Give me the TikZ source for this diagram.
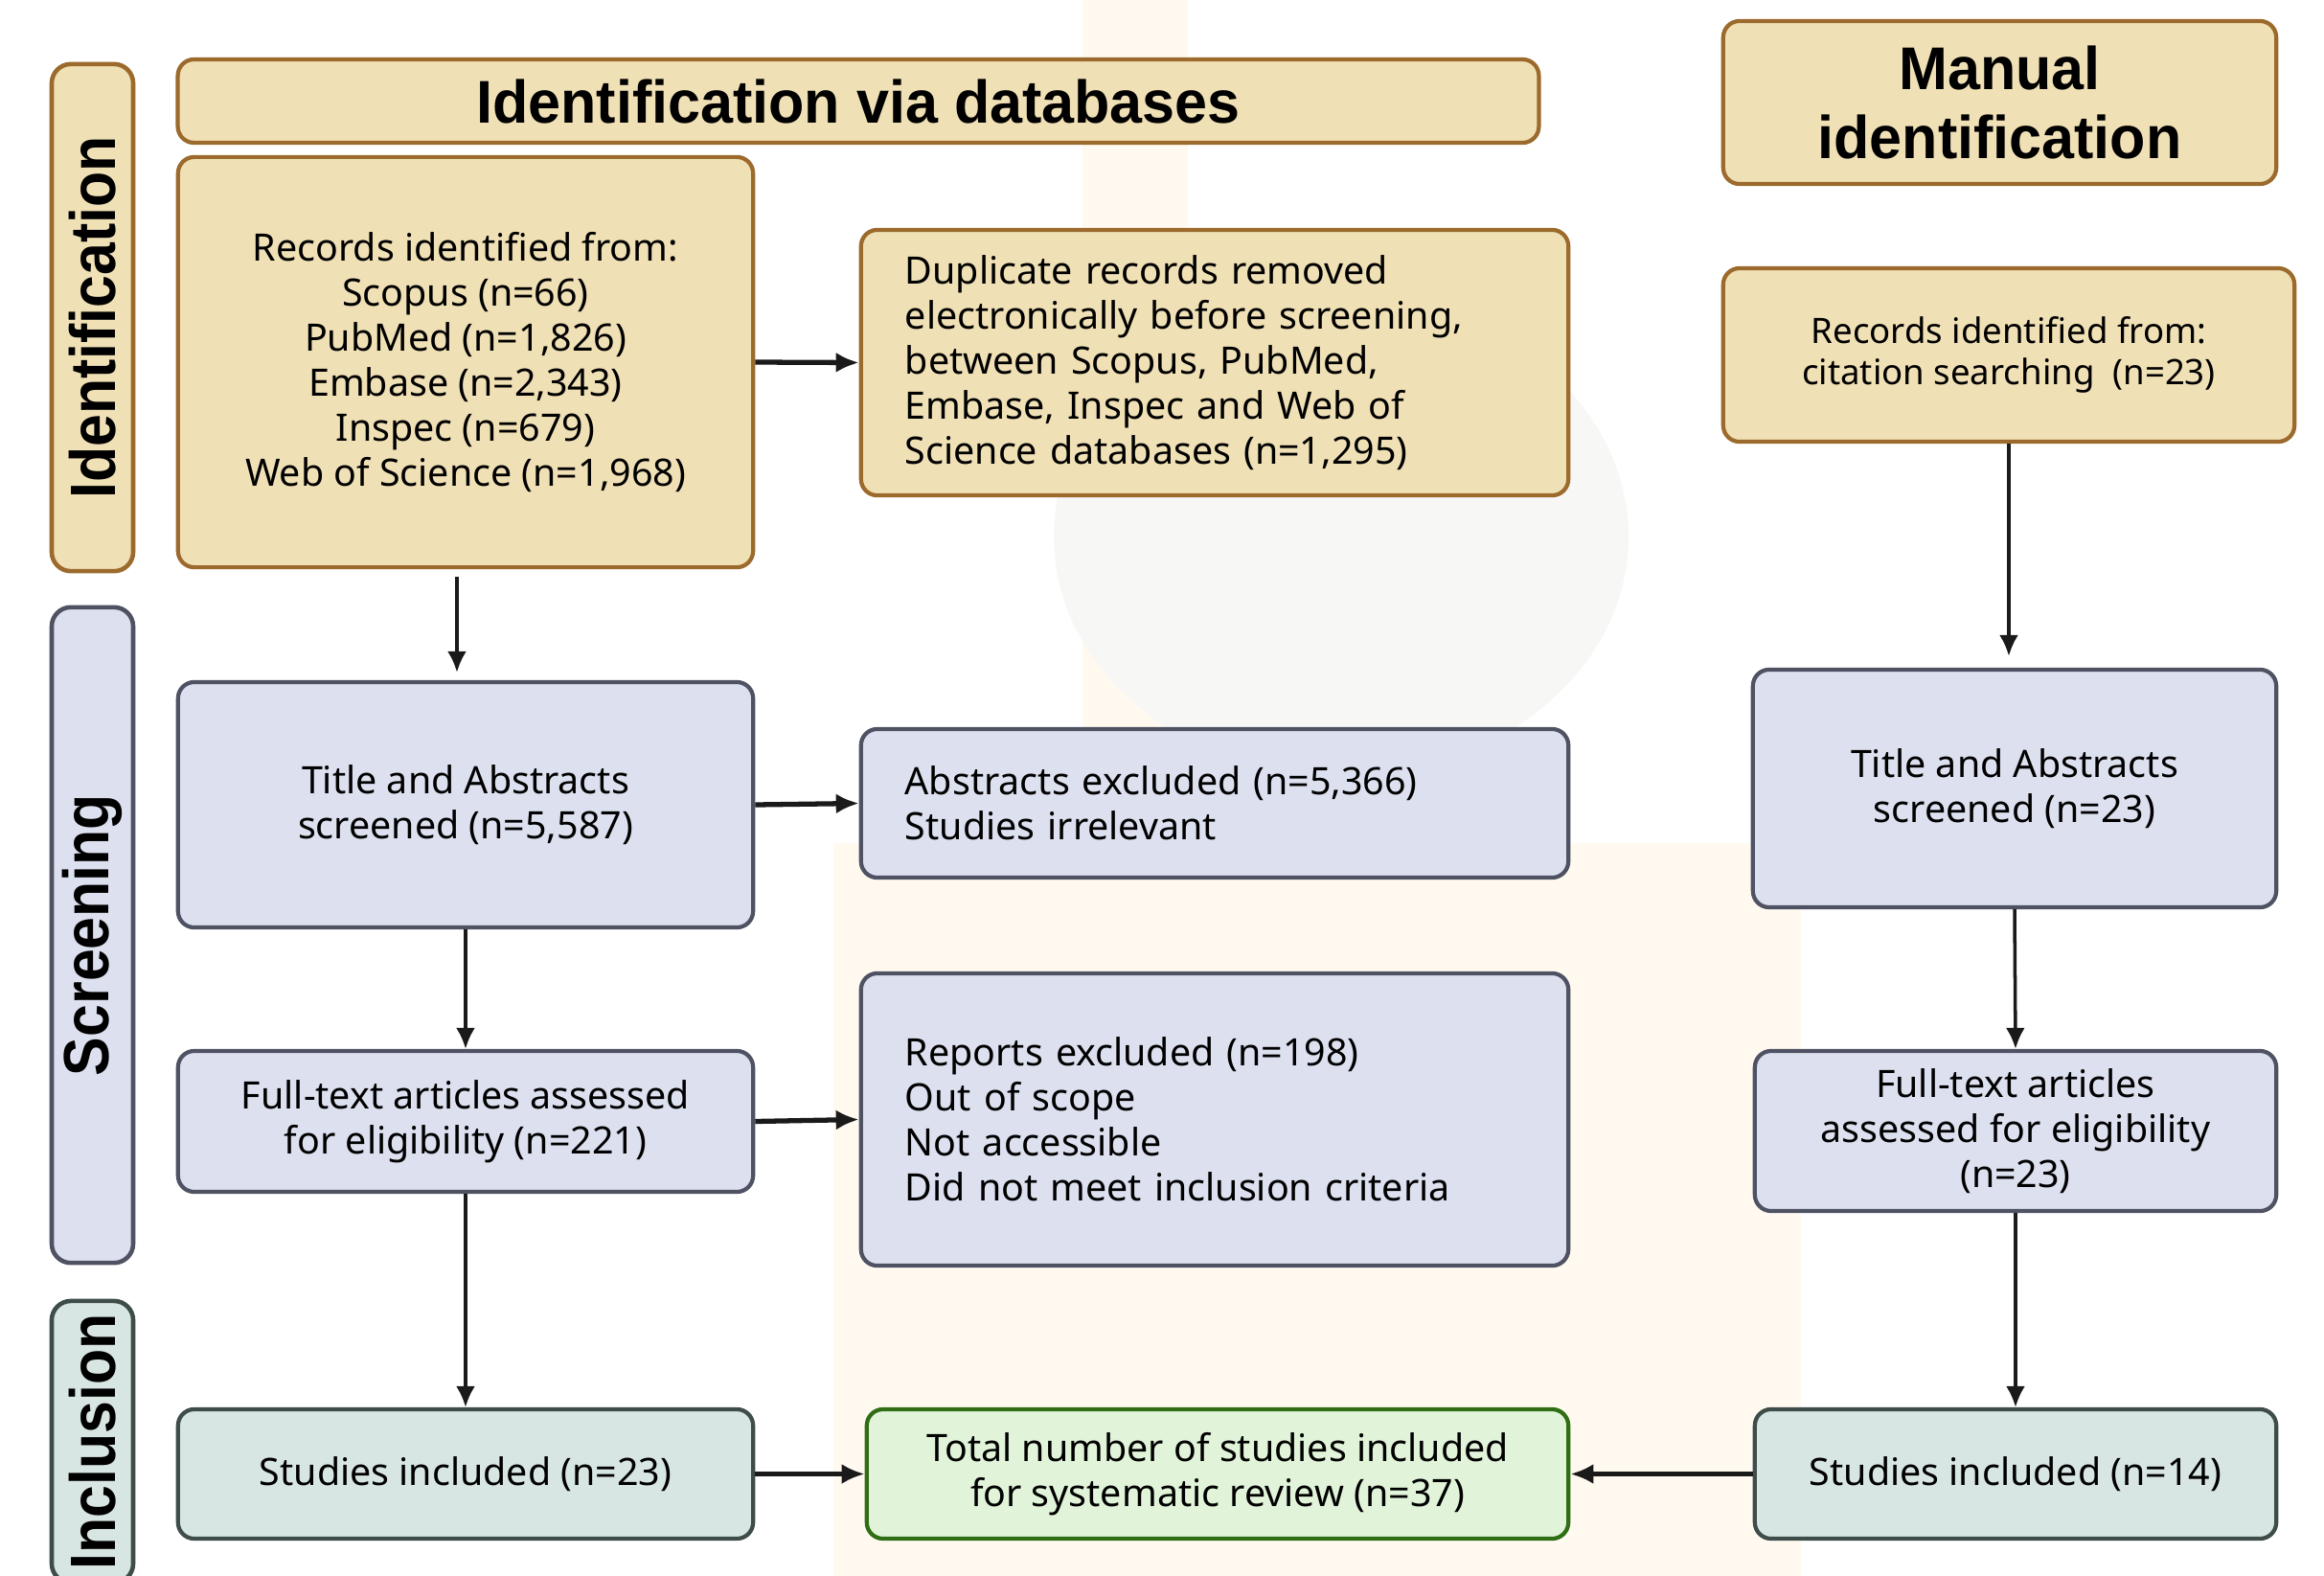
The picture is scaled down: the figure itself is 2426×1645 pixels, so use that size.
\documentclass[tikz,border=0pt]{standalone}
\usepackage{fontspec}
\setmainfont{Noto Sans}
\newfontfamily\headfont[FakeStretch=0.97]{Liberation Sans}
\newfontfamily\sidefont[FakeStretch=0.91]{Liberation Sans}
\usetikzlibrary{arrows.meta}
\definecolor{tanfill}{HTML}{F0E0B5}
\definecolor{tandraw}{HTML}{9B6A2C}
\definecolor{lavfill}{HTML}{DDE0EF}
\definecolor{lavdraw}{HTML}{4E5263}
\definecolor{tealfill}{HTML}{D8E6E3}
\definecolor{tealdraw}{HTML}{3E4C4A}
\definecolor{grnfill}{HTML}{E1F4D9}
\definecolor{grndraw}{HTML}{2F6E14}
\definecolor{arrowc}{HTML}{1A1A1A}
\definecolor{wmbeige}{HTML}{FFF9F0}
\definecolor{wmgrey}{HTML}{F7F7F6}
\tikzset{
  basebox/.style={rectangle, rounded corners=0.17cm, line width=1.2pt, inner sep=0pt, align=center,
    font=\fontsize{11.2}{13.4}\selectfont},
  tanbox/.style={basebox, fill=tanfill, draw=tandraw},
  lavbox/.style={basebox, fill=lavfill, draw=lavdraw},
  tealbox/.style={basebox, fill=tealfill, draw=tealdraw},
  grnbox/.style={basebox, fill=grnfill, draw=grndraw},
  headbox/.style={tanbox, font=\headfont\bfseries\fontsize{17.9}{20.6}\selectfont},
  sidebox/.style={rounded corners=0.2cm, line width=1.3pt, inner sep=0pt, minimum width=0.85cm,
    font=\sidefont\bfseries\fontsize{19}{22}\selectfont},
  harrow/.style={-{Latex[length=0.24cm,width=0.21cm]}, line width=1.5pt, draw=arrowc},
  varrow/.style={-{Latex[length=0.22cm,width=0.2cm]}, line width=1pt, draw=arrowc},
}
\begin{document}
\begin{tikzpicture}[x=0.01cm,y=-0.01cm]
\useasboundingbox (0,0) rectangle (2426,1645);
\fill[white] (0,0) rectangle (2426,1645);

% faint watermark in the background
\fill[wmbeige] (870,880) rectangle (1880,1645);
\fill[wmbeige] (1130,0) rectangle (1240,880);
\fill[wmgrey] (1400,560) ellipse [x radius=300, y radius=250];

% side labels
\node[sidebox, fill=tanfill, draw=tandraw, minimum height=5.29cm] (sid) at (96.5,331.5) {\rotatebox{90}{Identification}};
\node[sidebox, fill=lavfill, draw=lavdraw, minimum height=6.84cm] (sscr) at (96.5,976) {\rotatebox{90}{Screening}};
\node[sidebox, fill=tealfill, draw=tealdraw, minimum height=2.94cm] (sinc) at (96.5,1505) {\rotatebox{90}{Inclusion}};

% headers
\node[headbox, minimum width=14.20cm, minimum height=0.87cm] (hdb) at (896,105.5) {Identification via databases};
\node[headbox, minimum width=5.77cm, minimum height=1.70cm] (hman) at (2087.5,107) {Manual\\identification};

% identification row
\node[tanbox, minimum width=6.00cm, minimum height=4.28cm] (rec) at (486,378)
  {Records identified from:\\Scopus (n=66)\\PubMed (n=1,826)\\Embase (n=2,343)\\Inspec (n=679)\\Web of Science (n=1,968)};
\node[tanbox, minimum width=7.38cm, minimum height=2.77cm, text width=6.46cm, align=left] (dup) at (1268,378.5)
  {Duplicate records removed\\electronically before screening,\\between Scopus, PubMed,\\Embase, Inspec and Web of\\Science databases (n=1,295)};
\node[tanbox, minimum width=5.96cm, minimum height=1.81cm, font=\fontsize{10.4}{12.3}\selectfont] (mrec) at (2097,370.5)
  {Records identified from:\\citation searching~~(n=23)};

% screening
\node[lavbox, minimum width=6.00cm, minimum height=2.56cm] (ta) at (486,840)
  {Title and Abstracts\\screened (n=5,587)};
\node[lavbox, minimum width=7.38cm, minimum height=1.55cm, text width=6.46cm, align=left] (abx) at (1268,838.5)
  {Abstracts excluded (n=5,366)\\Studies irrelevant};
\node[lavbox, minimum width=5.46cm, minimum height=2.48cm] (mta) at (2103,823)
  {Title and Abstracts\\screened (n=23)};
\node[lavbox, minimum width=6.00cm, minimum height=1.47cm] (ft) at (486,1170.5)
  {Full-text articles assessed\\for eligibility (n=221)};
\node[lavbox, minimum width=7.38cm, minimum height=3.05cm, text width=6.46cm, align=left] (rpx) at (1268,1168.5)
  {Reports excluded (n=198)\\Out of scope\\Not accessible\\Did not meet inclusion criteria};
\node[lavbox, minimum width=5.44cm, minimum height=1.67cm] (mft) at (2104,1180.5)
  {Full-text articles\\assessed for eligibility\\(n=23)};

% inclusion
\node[tealbox, minimum width=6.00cm, minimum height=1.35cm] (s23) at (486,1538.5) {Studies included (n=23)};
\node[grnbox, minimum width=7.32cm, minimum height=1.35cm] (tot) at (1271,1538.5)
  {Total number of studies included\\for systematic review (n=37)};
\node[tealbox, minimum width=5.44cm, minimum height=1.35cm] (s14) at (2104,1538.5) {Studies included (n=14)};

% connectors
\draw[harrow] (rec.east) -- (dup.west);
\draw[varrow, shorten <=0.08cm, shorten >=0.08cm] ([xshift=-0.09cm]rec.south) -- ([xshift=-0.09cm]ta.north);
\draw[harrow] (ta.east) -- (abx.west);
\draw[varrow] (ta.south) -- (ft.north);
\draw[harrow] (ft.east) -- (rpx.west);
\draw[varrow] (ft.south) -- (s23.north);
\draw[harrow] (s23.east) -- (tot.west);
\draw[harrow] (s14.west) -- (tot.east);
\draw[varrow, shorten >=0.12cm] (mrec.south) -- (mrec.south |- mta.north);
\draw[varrow] (mta.south) -- (mft.north);
\draw[varrow] (mft.south) -- (s14.north);
\end{tikzpicture}
\end{document}
